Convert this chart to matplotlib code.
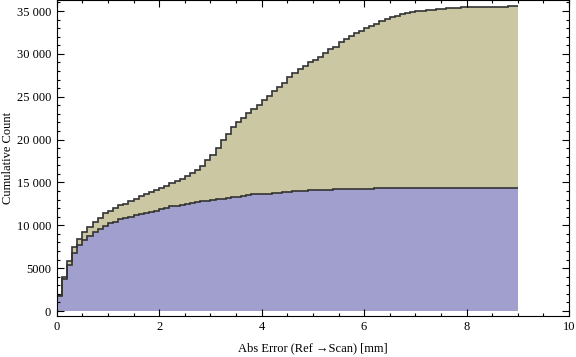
import numpy as np
import matplotlib
matplotlib.use("Agg")
import matplotlib.pyplot as plt
from matplotlib.ticker import MultipleLocator

plt.rcParams['font.family'] = ['Liberation Serif', 'DejaVu Serif']

# bin edges: 0.1 mm bins from 0 to 9
edges = np.round(np.arange(0, 9.01, 0.1), 2)

# cumulative counts, lower (blue) series
lower = [1750, 3730, 5370, 6730, 7670, 8290, 8750, 9180, 9610, 9920,
         10230, 10420, 10700, 10820, 11010, 11170, 11320, 11470, 11590, 11710,
         11870, 12060, 12250, 12250, 12370, 12490, 12550, 12720, 12800, 12800,
         12910, 13030, 13110, 13230, 13340, 13340, 13460, 13580, 13690, 13690,
         13690, 13690, 13810, 13810, 13930, 13930, 14040, 14040, 14040, 14160,
         14160, 14160, 14160, 14160, 14270, 14270, 14270, 14270, 14270, 14270,
         14270, 14270, 14390, 14390, 14390, 14390, 14390, 14390, 14390, 14390,
         14390, 14390, 14390, 14390, 14390, 14390, 14390, 14390, 14390, 14390,
         14390, 14390, 14390, 14390, 14390, 14390, 14390, 14390, 14390, 14390]

# cumulative counts, stacked total (tan top)
total = [1900, 3970, 5830, 7430, 8400, 9180, 9770, 10350, 10820, 11400,
         11700, 12000, 12310, 12520, 12850, 13090, 13360, 13630, 13850, 14160,
         14390, 14590, 14900, 15170, 15400, 15750, 16070, 16450, 16960, 17620,
         18200, 19060, 19960, 20620, 21430, 22020, 22560, 23070, 23530, 24040,
         24620, 25130, 25710, 26100, 26650, 27270, 27810, 28240, 28590, 29020,
         29290, 29680, 30150, 30580, 30850, 31350, 31740, 32090, 32400, 32710,
         32990, 33260, 33490, 33800, 34040, 34270, 34460, 34660, 34780, 34890,
         34970, 34970, 35090, 35090, 35200, 35200, 35320, 35320, 35320, 35440,
         35440, 35440, 35440, 35440, 35440, 35440, 35440, 35440, 35550, 35550]

yticks = [0, 5000, 10000, 15000, 20000, 25000, 30000, 35000]
ytick_labels = ['0', '5000', '10 000', '15 000', '20 000',
                '25 000', '30 000', '35 000']
xticks = [0, 2, 4, 6, 8, 10]

blue = '#a09fcd'
tan = '#cbc7a2'
edge = '#333333'

fig = plt.figure(figsize=(5.76, 3.57), dpi=100)
ax = fig.add_axes([0.0984, 0.1162, 0.8896, 0.8824])

ax.stairs(lower, edges, baseline=0, fill=True, color=blue, lw=0)
ax.stairs(total, edges, baseline=lower, fill=True, color=tan, lw=0)
ax.stairs(lower, edges, baseline=None, color=edge, lw=1.2)
ax.stairs(total, edges, baseline=None, color=edge, lw=1.2)

ax.set_xlim(0, 10)
ax.set_ylim(-525, 36225)

ax.set_xticks(xticks)
ax.set_xticklabels([str(t) for t in xticks])
ax.xaxis.set_minor_locator(MultipleLocator(0.5))
ax.set_yticks(yticks)
ax.set_yticklabels(ytick_labels)
ax.yaxis.set_minor_locator(MultipleLocator(1000))

ax.tick_params(which='both', direction='in', top=True, right=True,
               labelsize=9, width=0.8, color='black', pad=4)
ax.tick_params(which='major', length=5)
ax.tick_params(which='minor', length=2.5)
for s in ax.spines.values():
    s.set_linewidth(0.8)

ax.set_xlabel('Abs Error (Ref \u2192Scan) [mm]', fontsize=9)
ax.xaxis.set_label_coords(0.5, -0.085)
ax.set_ylabel('Cumulative Count', fontsize=9)
ax.yaxis.set_label_coords(-0.084, 0.5)

fig.savefig('out.png', dpi=100)
